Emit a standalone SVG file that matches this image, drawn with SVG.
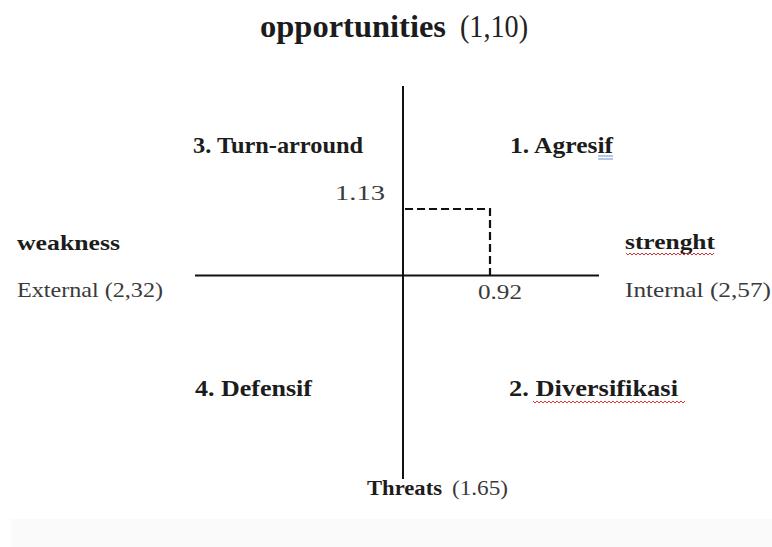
<svg xmlns="http://www.w3.org/2000/svg" width="772" height="547" viewBox="0 0 772 547">
<style>
text{font-family:"Liberation Serif","DejaVu Serif",serif}
.b{font-weight:bold;fill:#1c1c1c}
.r{fill:#3a3a3a}
.ax{stroke:#111;stroke-width:2;fill:none}
.dash{stroke:#111;stroke-width:2.2;fill:none;stroke-dasharray:8,4}
.wave{stroke:#d33;stroke-width:1;fill:none}
</style>
<rect width="772" height="547" fill="#fff"/>
<rect x="11" y="519" width="761" height="28" fill="#fafafa"/>
<g id="title">
<text x="260" y="37" class="b" font-size="32" textLength="186" lengthAdjust="spacingAndGlyphs">opportunities</text>
<text x="460" y="37" font-size="32" fill="#222" textLength="68" lengthAdjust="spacingAndGlyphs">(1,10)</text>
</g>
<g id="connectors">
<line class="ax" x1="403" y1="86" x2="403" y2="479"/>
<line class="ax" x1="195" y1="275.5" x2="599" y2="275.5"/>
<polyline class="dash" points="405,209 490,209 490,275"/>
</g>
<g id="q3"><text x="193" y="153" class="b" font-size="23" textLength="170" lengthAdjust="spacingAndGlyphs">3. Turn-arround</text></g>
<g id="q1"><text x="510" y="153" class="b" font-size="23" textLength="103" lengthAdjust="spacingAndGlyphs">1. Agresif</text>
<line x1="598" y1="156" x2="613" y2="156" stroke="#6a8fd0" stroke-width="1"/><line x1="598" y1="159" x2="613" y2="159" stroke="#6a8fd0" stroke-width="1"/></g>
<g id="v113"><text x="335" y="200" class="r" font-size="20" textLength="50" lengthAdjust="spacingAndGlyphs">1.13</text></g>
<g id="v092"><text x="478" y="299" class="r" font-size="20" textLength="44" lengthAdjust="spacingAndGlyphs">0.92</text></g>
<g id="weakness"><text x="17" y="250" class="b" font-size="22" textLength="103" lengthAdjust="spacingAndGlyphs">weakness</text>
<text x="17" y="297" class="r" font-size="22" textLength="146" lengthAdjust="spacingAndGlyphs">External (2,32)</text></g>
<g id="strength"><text x="625" y="249" class="b" font-size="22" textLength="90" lengthAdjust="spacingAndGlyphs">strenght</text>
<path class="wave" d="M626,253 l2,2 l2,-2 l2,2 l2,-2 l2,2 l2,-2 l2,2 l2,-2 l2,2 l2,-2 l2,2 l2,-2 l2,2 l2,-2 l2,2 l2,-2 l2,2 l2,-2 l2,2 l2,-2 l2,2 l2,-2 l2,2 l2,-2 l2,2 l2,-2 l2,2 l2,-2 l2,2 l2,-2 l2,2 l2,-2 l2,2 l2,-2 l2,2 l2,-2 l2,2 l2,-2 l2,2 l2,-2 l2,2 l2,-2 l2,2 l2,-2"/>
<text x="625" y="297" class="r" font-size="22" textLength="146" lengthAdjust="spacingAndGlyphs">Internal (2,57)</text></g>
<g id="q4"><text x="195" y="396" class="b" font-size="23" textLength="117" lengthAdjust="spacingAndGlyphs">4. Defensif</text></g>
<g id="q2"><text x="509" y="396" class="b" font-size="23" textLength="169" lengthAdjust="spacingAndGlyphs">2. Diversifikasi</text>
<path class="wave" d="M533,401 l2,2 l2,-2 l2,2 l2,-2 l2,2 l2,-2 l2,2 l2,-2 l2,2 l2,-2 l2,2 l2,-2 l2,2 l2,-2 l2,2 l2,-2 l2,2 l2,-2 l2,2 l2,-2 l2,2 l2,-2 l2,2 l2,-2 l2,2 l2,-2 l2,2 l2,-2 l2,2 l2,-2 l2,2 l2,-2 l2,2 l2,-2 l2,2 l2,-2 l2,2 l2,-2 l2,2 l2,-2 l2,2 l2,-2 l2,2 l2,-2 l2,2 l2,-2 l2,2 l2,-2 l2,2 l2,-2 l2,2 l2,-2 l2,2 l2,-2 l2,2 l2,-2 l2,2 l2,-2 l2,2 l2,-2 l2,2 l2,-2 l2,2 l2,-2 l2,2 l2,-2 l2,2 l2,-2 l2,2 l2,-2 l2,2 l2,-2 l2,2 l2,-2 l2,2 l2,-2"/></g>
<g id="threats"><text x="367" y="495" class="b" font-size="22" textLength="75" lengthAdjust="spacingAndGlyphs">Threats</text>
<text x="452" y="495" class="r" font-size="22" textLength="56" lengthAdjust="spacingAndGlyphs">(1.65)</text></g>
</svg>
